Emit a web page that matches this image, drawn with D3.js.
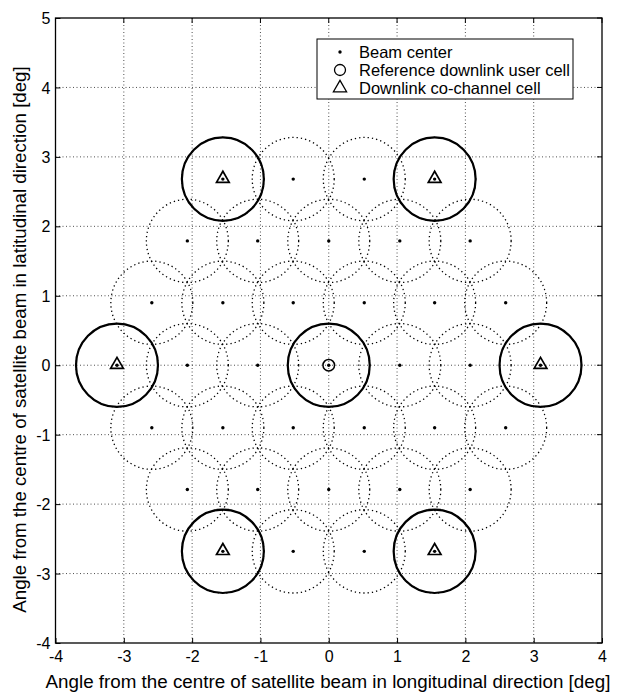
<!DOCTYPE html>
<html><head><meta charset="utf-8">
<script src="https://cdn.jsdelivr.net/npm/d3@7"></script>
<style>
html,body{margin:0;padding:0;background:#fff;}
text{font-family:"Liberation Sans",Arial,sans-serif;fill:#000;}
</style></head>
<body><svg id="c" width="618" height="696"></svg>
<script>
// ---- data ----
const beamX = [
  -1.55,-0.52,0.52,1.55,
  -2.07,-1.04,0,1.04,2.07,
  -2.59,-1.55,-0.52,0.52,1.55,2.59,
  -3.1,-2.07,-1.04,0,1.04,2.07,3.1,
  -2.59,-1.55,-0.52,0.52,1.55,2.59,
  -2.07,-1.04,0,1.04,2.07,
  -1.55,-0.52,0.52,1.55
];
const beamY = [
  2.68,2.68,2.68,2.68,
  1.79,1.79,1.79,1.79,1.79,
  0.9,0.9,0.9,0.9,0.9,0.9,
  0,0,0,0,0,0,0,
  -0.9,-0.9,-0.9,-0.9,-0.9,-0.9,
  -1.79,-1.79,-1.79,-1.79,-1.79,
  -2.68,-2.68,-2.68,-2.68
];
const refCellX = [0];
const refCellY = [0];
const coChanX = [-1.55,1.55,-3.1,3.1,-1.55,1.55];
const coChanY = [2.68,2.68,0,0,-2.68,-2.68];
const cellRadius = 0.6;
const xTicks = [-4,-3,-2,-1,0,1,2,3,4];
const yTicks = [-4,-3,-2,-1,0,1,2,3,4,5];
const legendLabels = ["Beam center","Reference downlink user cell","Downlink co-channel cell"];
const xLabel = "Angle from the centre of satellite beam in longitudinal direction [deg]";
const yLabel = "Angle from the centre of satellite beam in latitudinal direction [deg]";

// ---- layout ----
const L=55.5, R=602, T=18, B=643;
const svg=d3.select("#c");
const x=d3.scaleLinear().domain([-4,4]).range([L,R]);
const y=d3.scaleLinear().domain([-4,5]).range([B,T]);

// grid
const g=svg.append("g");
g.selectAll(".gx").data(xTicks.slice(1,-1)).enter().append("line")
  .attr("x1",d=>x(d)).attr("x2",d=>x(d)).attr("y1",T).attr("y2",B)
  .attr("stroke","#222").attr("stroke-width",0.8).attr("stroke-dasharray","1,2.5");
g.selectAll(".gy").data(yTicks.slice(1,-1)).enter().append("line")
  .attr("y1",d=>y(d)).attr("y2",d=>y(d)).attr("x1",L).attr("x2",R)
  .attr("stroke","#222").attr("stroke-width",0.8).attr("stroke-dasharray","1,2.5");

const beams=beamX.map((v,i)=>({x:v,y:beamY[i]}));
const rx=x(cellRadius)-x(0), ry=y(0)-y(cellRadius);

// dotted cells
svg.append("g").selectAll("ellipse").data(beams).enter().append("ellipse")
  .attr("cx",d=>x(d.x)).attr("cy",d=>y(d.y)).attr("rx",rx).attr("ry",ry)
  .attr("fill","none").attr("stroke","#000").attr("stroke-width",1.3).attr("stroke-dasharray","1.3,3");

// solid cells
const solid=refCellX.map((v,i)=>({x:v,y:refCellY[i]})).concat(coChanX.map((v,i)=>({x:v,y:coChanY[i]})));
svg.append("g").selectAll("ellipse").data(solid).enter().append("ellipse")
  .attr("cx",d=>x(d.x)).attr("cy",d=>y(d.y)).attr("rx",rx).attr("ry",ry)
  .attr("fill","none").attr("stroke","#000").attr("stroke-width",2.2);

// beam centers
svg.append("g").selectAll("circle").data(beams).enter().append("circle")
  .attr("cx",d=>x(d.x)).attr("cy",d=>y(d.y)).attr("r",1.7).attr("fill","#000");

// reference marker
svg.append("g").selectAll("circle").data(refCellX.map((v,i)=>({x:v,y:refCellY[i]}))).enter().append("circle")
  .attr("cx",d=>x(d.x)).attr("cy",d=>y(d.y)).attr("r",5.8).attr("fill","none").attr("stroke","#000").attr("stroke-width",1.5);

// triangle markers
const tri=d3.symbol().type(d3.symbolTriangle).size(70);
svg.append("g").selectAll("path").data(coChanX.map((v,i)=>({x:v,y:coChanY[i]}))).enter().append("path")
  .attr("d",tri).attr("transform",d=>`translate(${x(d.x)},${y(d.y)-0.5})`)
  .attr("fill","none").attr("stroke","#000").attr("stroke-width",1.7);

// frame
svg.append("rect").attr("x",L).attr("y",T).attr("width",R-L).attr("height",B-T)
  .attr("fill","none").attr("stroke","#000").attr("stroke-width",1.3);

// axes
const fmt=d=>String(d);
const xa=svg.append("g").attr("transform",`translate(0,${B})`)
  .call(d3.axisBottom(x).tickValues(xTicks).tickSize(-5).tickPadding(8).tickFormat(fmt));
const ya=svg.append("g").attr("transform",`translate(${L},0)`)
  .call(d3.axisLeft(y).tickValues(yTicks).tickSize(-5).tickPadding(5).tickFormat(fmt));
[xa,ya].forEach(a=>{a.select(".domain").remove();a.selectAll("line").attr("stroke","#000");
  a.selectAll("text").style("font-size","16px").style("font-family","'Liberation Sans',Arial,sans-serif");});
ya.selectAll("text").attr("dy","0.35em");
// top/right ticks
svg.append("g").selectAll("line").data(xTicks).enter().append("line")
  .attr("x1",d=>x(d)).attr("x2",d=>x(d)).attr("y1",T).attr("y2",T+5).attr("stroke","#000");
svg.append("g").selectAll("line").data(yTicks).enter().append("line")
  .attr("y1",d=>y(d)).attr("y2",d=>y(d)).attr("x1",R).attr("x2",R-5).attr("stroke","#000");

// axis labels
svg.append("text").attr("x",328).attr("y",688).attr("text-anchor","middle")
  .style("font-size","18.8px").text(xLabel);
svg.append("text").attr("transform",`translate(26,339.5) rotate(-90)`).attr("text-anchor","middle")
  .style("font-size","18.7px").text(yLabel);

// legend
const lg=svg.append("g");
lg.append("rect").attr("x",317).attr("y",39).attr("width",256).attr("height",60)
  .attr("fill","#fff").attr("stroke","#000").attr("stroke-width",1);
const ly=[52,70,88];
lg.append("circle").attr("cx",340).attr("cy",ly[0]).attr("r",1.7).attr("fill","#000");
lg.append("circle").attr("cx",340).attr("cy",ly[1]).attr("r",5.5).attr("fill","none").attr("stroke","#000").attr("stroke-width",1.3);
lg.append("path").attr("d",d3.symbol().type(d3.symbolTriangle).size(75)).attr("transform",`translate(340,${ly[2]})`)
  .attr("fill","none").attr("stroke","#000").attr("stroke-width",1.3);
legendLabels.forEach((t,i)=>lg.append("text").attr("x",359).attr("y",ly[i]+6)
  .style("font-size","16.5px").text(t));
</script></body></html>
